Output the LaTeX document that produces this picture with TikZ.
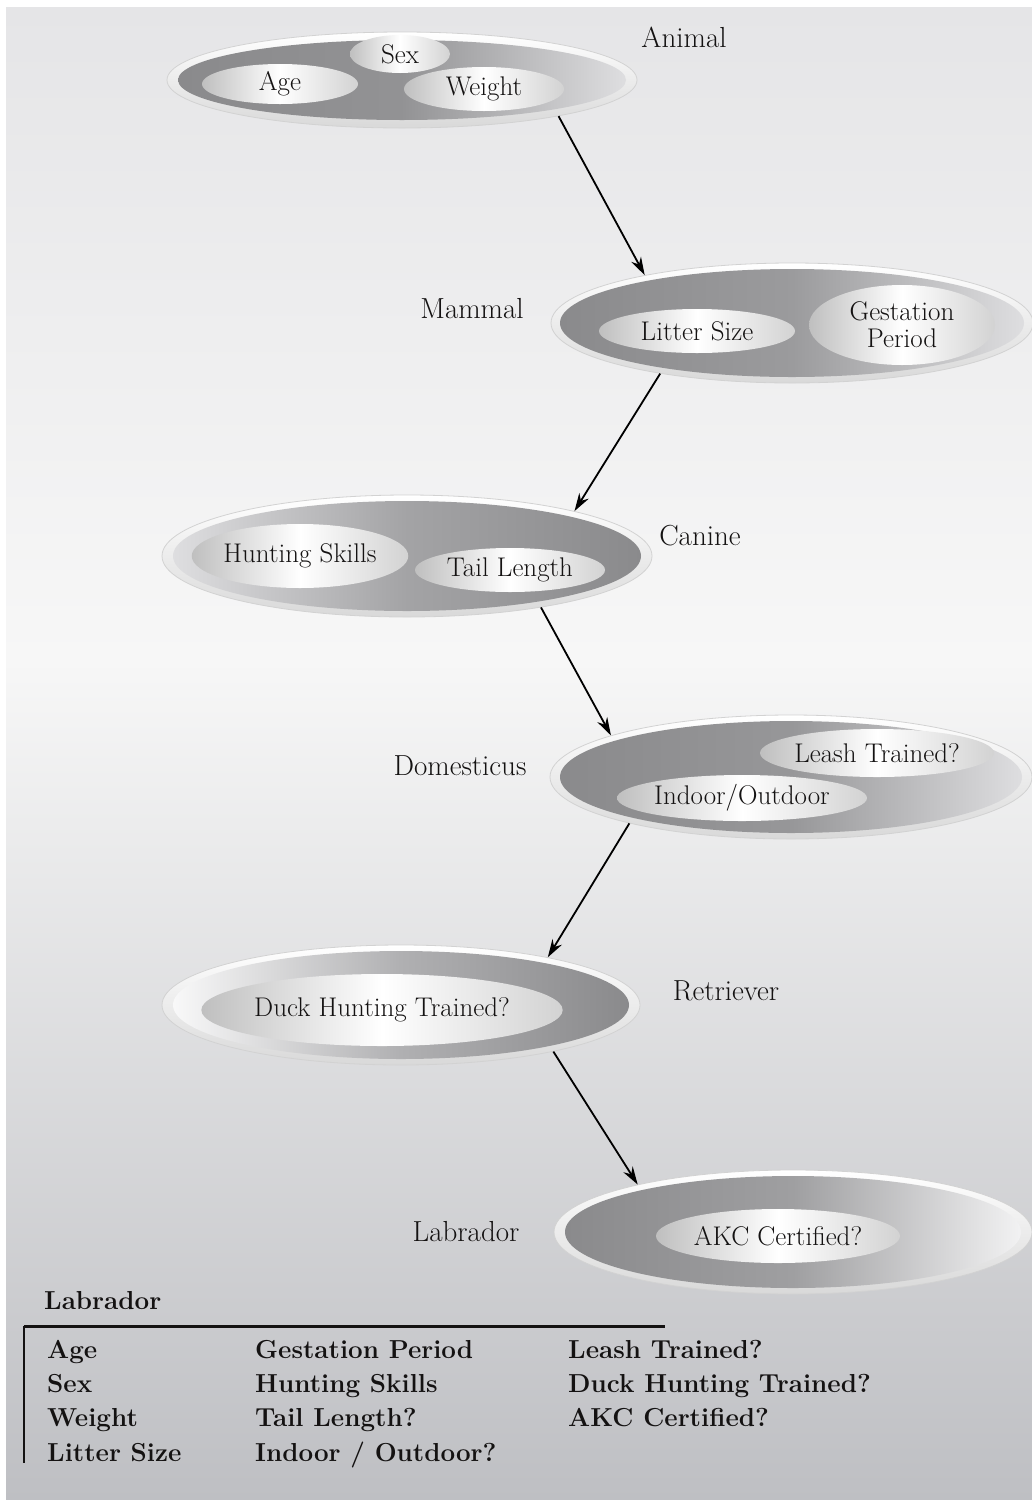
\documentclass[tikz,border=0pt]{standalone}
\usetikzlibrary{shapes.geometric}
\usetikzlibrary{arrows.meta}

\definecolor{bgtop}{RGB}{229,229,231}
\definecolor{bgmid}{RGB}{247,247,247}
\definecolor{bgbot}{RGB}{190,191,195}
\definecolor{dk}{RGB}{138,138,140}
\definecolor{lt}{RGB}{222,222,224}
\definecolor{ink}{RGB}{20,18,18}

\tikzset{
  ring/.style={ellipse, inner sep=0pt, top color=white, bottom color=gray!30, draw=gray!35, line width=0.8pt},
  blob/.style={ellipse, inner sep=0pt, left color=gray!50, right color=gray!35, middle color=white, align=center, text=ink, font=\fontsize{27}{27}\selectfont},
  lbl/.style={text=ink, font=\fontsize{29}{30}\selectfont},
  item/.style={anchor=west, inner sep=0pt, text height=18pt, text depth=6pt, text=ink, font=\bfseries\fontsize{26}{28}\selectfont},
  link/.style={-{Stealth[length=18pt,width=11pt]}, line width=1.8pt, black}
}

\begin{document}
\begin{tikzpicture}[x=1pt, y=-1pt]
            \useasboundingbox (0,0) rectangle (1032,1500);
            \fill[white] (0,0) rectangle (1032,1500);
            \shade[top color=bgtop, bottom color=bgmid] (6,7) rectangle (1032,660);
            \shade[top color=bgmid, bottom color=bgbot] (6,660) rectangle (1032,1500);

            \node[ring, minimum width=470pt, minimum height=96pt] (animal) at (402,80) {};
            \node[ring, minimum width=482pt, minimum height=120pt] (mammal) at (792,323) {};
            \node[ring, minimum width=490pt, minimum height=122pt] (canine) at (407,556) {};
            \node[ring, minimum width=482pt, minimum height=124pt] (domesticus) at (791,777) {};
            \node[ring, minimum width=478pt, minimum height=120pt] (retriever) at (401,1005) {};
            \node[ring, minimum width=478pt, minimum height=124pt] (labrador) at (793,1232) {};

            \shade[left color=dk, right color=lt, middle color=dk!90!lt] (animal.center) ellipse [x radius=224, y radius=40];
            \shade[left color=dk, right color=lt, middle color=dk!80!lt] (mammal.center) ellipse [x radius=232, y radius=54];
            \shade[left color=lt, right color=dk, middle color=dk!70!lt] (canine.center) ellipse [x radius=234, y radius=55];
            \shade[left color=dk, right color=lt, middle color=dk!85!lt] (domesticus.center) ellipse [x radius=231, y radius=56];
            \shade[left color=white!80!lt, right color=dk, middle color=dk!55!lt] (retriever.center) ellipse [x radius=228, y radius=54];
            \shade[left color=dk, right color=white!60!lt, middle color=dk!75!lt] (labrador.center) ellipse [x radius=228, y radius=56];

            \node[blob, minimum width=156pt, minimum height=40pt] (age) at (280,84) {Age};
            \node[blob, minimum width=100pt, minimum height=38pt] (sex) at (400,54) {Sex};
            \node[blob, minimum width=160pt, minimum height=44pt] (weight) at (484,89) {Weight};
            \node[blob, minimum width=196pt, minimum height=44pt] (litter) at (697,331) {Litter Size};
            \node[blob, minimum width=186pt, minimum height=80pt] (gestation) at (902,325) {Gestation\\Period};
            \node[blob, minimum width=200pt, minimum height=64pt] (hunting) at (300,556) {Hunting Skills};
            \node[blob, minimum width=190pt, minimum height=44pt] (tail) at (510,570) {Tail Length};
            \node[blob, minimum width=224pt, minimum height=48pt] (leash) at (877,753) {Leash Trained?};
            \node[blob, minimum width=250pt, minimum height=46pt] (indoor) at (742,798) {Indoor/Outdoor};
            \node[blob, minimum width=304pt, minimum height=72pt] (duck) at (382,1010) {Duck Hunting Trained?};
            \node[blob, minimum width=244pt, minimum height=54pt] (akc) at (778,1236) {AKC Certified?};

            \node[lbl] (animallbl) at (684,37) {Animal};
            \node[lbl] (mammallbl) at (472,309) {Mammal};
            \node[lbl] (caninelbl) at (700,536) {Canine};
            \node[lbl] (domesticuslbl) at (460,766) {Domesticus};
            \node[lbl] (retrieverlbl) at (726,991) {Retriever};
            \node[lbl] (labradorlbl) at (466,1232) {Labrador};

            \draw[link] (animal.-13) -- (mammal.162);
            \draw[link] (mammal.201) -- (canine.15);
            \draw[link] (canine.-21) -- (domesticus.167);
            \draw[link] (domesticus.196) -- (retriever.18);
            \draw[link] (retriever.-17) -- (labrador.163);

            \node[item] (legendtitle) at (44,1303) {Labrador};
            \draw[ink, line width=3pt] (24,1326) -- (665,1326);
            \draw[ink, line width=1.5pt] (24,1326) -- (24,1463);

            \node[item] (lage) at (47,1352) {Age};
            \node[item] (lsex) at (47,1386) {Sex};
            \node[item] (lweight) at (47,1420) {Weight};
            \node[item] (llitter) at (47,1455) {Litter Size};
            \node[item] (lgestation) at (255,1352) {Gestation Period};
            \node[item] (lhunting) at (255,1386) {Hunting Skills};
            \node[item] (ltail) at (255,1420) {Tail Length?};
            \node[item] (lindoor) at (255,1455) {Indoor / Outdoor?};
            \node[item] (lleash) at (568,1352) {Leash Trained?};
            \node[item] (lduck) at (568,1386) {Duck Hunting Trained?};
            \node[item] (lakc) at (568,1420) {AKC Certified?};
        \end{tikzpicture}
\end{document}
